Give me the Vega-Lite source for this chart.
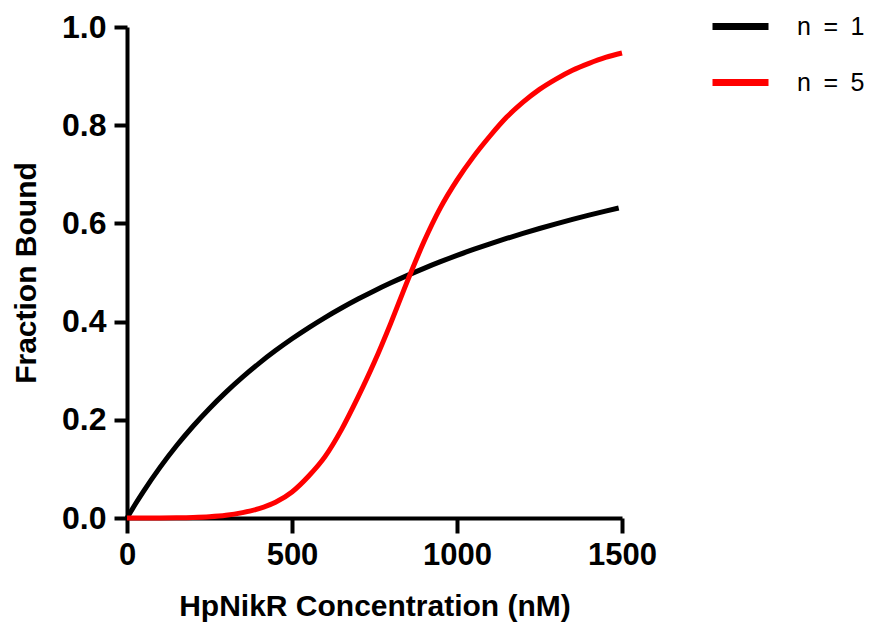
{
  "$schema": "https://vega.github.io/schema/vega-lite/v6.json",
  "autosize": "none",
  "width": 495,
  "height": 491,
  "padding": {"left": 127, "top": 27, "right": 250, "bottom": 109},
  "background": "white",
  "config": {"view": {"stroke": null}},
  "datasets": {
    "curves": [
      {"conc": 0, "bound": 0, "series": "n = 1"},
      {"conc": 25, "bound": 0.0279, "series": "n = 1"},
      {"conc": 50, "bound": 0.0543, "series": "n = 1"},
      {"conc": 100, "bound": 0.1031, "series": "n = 1"},
      {"conc": 150, "bound": 0.1471, "series": "n = 1"},
      {"conc": 200, "bound": 0.1869, "series": "n = 1"},
      {"conc": 250, "bound": 0.2232, "series": "n = 1"},
      {"conc": 300, "bound": 0.2564, "series": "n = 1"},
      {"conc": 350, "bound": 0.2869, "series": "n = 1"},
      {"conc": 400, "bound": 0.3150, "series": "n = 1"},
      {"conc": 450, "bound": 0.3409, "series": "n = 1"},
      {"conc": 500, "bound": 0.3650, "series": "n = 1"},
      {"conc": 550, "bound": 0.3873, "series": "n = 1"},
      {"conc": 600, "bound": 0.4082, "series": "n = 1"},
      {"conc": 650, "bound": 0.4276, "series": "n = 1"},
      {"conc": 700, "bound": 0.4459, "series": "n = 1"},
      {"conc": 750, "bound": 0.4630, "series": "n = 1"},
      {"conc": 800, "bound": 0.4790, "series": "n = 1"},
      {"conc": 850, "bound": 0.4942, "series": "n = 1"},
      {"conc": 900, "bound": 0.5085, "series": "n = 1"},
      {"conc": 950, "bound": 0.5220, "series": "n = 1"},
      {"conc": 1000, "bound": 0.5348, "series": "n = 1"},
      {"conc": 1050, "bound": 0.5469, "series": "n = 1"},
      {"conc": 1100, "bound": 0.5584, "series": "n = 1"},
      {"conc": 1150, "bound": 0.5693, "series": "n = 1"},
      {"conc": 1200, "bound": 0.5797, "series": "n = 1"},
      {"conc": 1250, "bound": 0.5896, "series": "n = 1"},
      {"conc": 1300, "bound": 0.5991, "series": "n = 1"},
      {"conc": 1350, "bound": 0.6081, "series": "n = 1"},
      {"conc": 1400, "bound": 0.6167, "series": "n = 1"},
      {"conc": 1450, "bound": 0.6250, "series": "n = 1"},
      {"conc": 1490, "bound": 0.6314, "series": "n = 1"},
      {"conc": 0, "bound": 0, "series": "n = 5"},
      {"conc": 100, "bound": 0.0, "series": "n = 5"},
      {"conc": 150, "bound": 0.0003, "series": "n = 5"},
      {"conc": 200, "bound": 0.001, "series": "n = 5"},
      {"conc": 250, "bound": 0.0025, "series": "n = 5"},
      {"conc": 300, "bound": 0.0055, "series": "n = 5"},
      {"conc": 350, "bound": 0.011, "series": "n = 5"},
      {"conc": 400, "bound": 0.019, "series": "n = 5"},
      {"conc": 450, "bound": 0.032, "series": "n = 5"},
      {"conc": 500, "bound": 0.053, "series": "n = 5"},
      {"conc": 550, "bound": 0.085, "series": "n = 5"},
      {"conc": 600, "bound": 0.125, "series": "n = 5"},
      {"conc": 650, "bound": 0.180, "series": "n = 5"},
      {"conc": 700, "bound": 0.246, "series": "n = 5"},
      {"conc": 750, "bound": 0.318, "series": "n = 5"},
      {"conc": 800, "bound": 0.398, "series": "n = 5"},
      {"conc": 850, "bound": 0.483, "series": "n = 5"},
      {"conc": 900, "bound": 0.563, "series": "n = 5"},
      {"conc": 950, "bound": 0.632, "series": "n = 5"},
      {"conc": 1000, "bound": 0.688, "series": "n = 5"},
      {"conc": 1050, "bound": 0.736, "series": "n = 5"},
      {"conc": 1100, "bound": 0.778, "series": "n = 5"},
      {"conc": 1150, "bound": 0.816, "series": "n = 5"},
      {"conc": 1200, "bound": 0.847, "series": "n = 5"},
      {"conc": 1250, "bound": 0.873, "series": "n = 5"},
      {"conc": 1300, "bound": 0.894, "series": "n = 5"},
      {"conc": 1350, "bound": 0.912, "series": "n = 5"},
      {"conc": 1400, "bound": 0.926, "series": "n = 5"},
      {"conc": 1450, "bound": 0.938, "series": "n = 5"},
      {"conc": 1500, "bound": 0.947, "series": "n = 5"}
    ]
  },
  "data": {"name": "curves"},
  "mark": {"type": "line", "strokeWidth": 5, "interpolate": "monotone"},
  "encoding": {
    "x": {
      "field": "conc",
      "type": "quantitative",
      "scale": {"domain": [0, 1500], "nice": false},
      "axis": {
        "title": "HpNikR Concentration (nM)",
        "values": [0, 500, 1000, 1500],
        "format": "d",
        "grid": false,
        "domainColor": "black",
        "domainWidth": 4,
        "tickColor": "black",
        "tickWidth": 4,
        "tickSize": 15,
        "labelFont": "Liberation Sans",
        "labelFontSize": 31,
        "labelFontWeight": "bold",
        "labelColor": "black",
        "labelPadding": 7,
        "labelFlush": false,
        "titleFont": "Liberation Sans",
        "titleFontSize": 30,
        "titleFontWeight": "bold",
        "titleColor": "black",
        "titlePadding": 21
      }
    },
    "y": {
      "field": "bound",
      "type": "quantitative",
      "scale": {"domain": [0, 1], "nice": false},
      "axis": {
        "title": "Fraction Bound",
        "values": [0, 0.2, 0.4, 0.6, 0.8, 1.0],
        "format": ".1f",
        "grid": false,
        "domainColor": "black",
        "domainWidth": 4,
        "tickColor": "black",
        "tickWidth": 4,
        "tickSize": 13,
        "labelFont": "Liberation Sans",
        "labelFontSize": 32,
        "labelFontWeight": "bold",
        "labelColor": "black",
        "labelPadding": 8,
        "labelFlush": false,
        "titleFont": "Liberation Sans",
        "titleFontSize": 30,
        "titleFontWeight": "bold",
        "titleColor": "black",
        "titlePadding": 20
      }
    },
    "color": {
      "field": "series",
      "type": "nominal",
      "scale": {"domain": ["n = 1", "n = 5"], "range": ["#000000", "#ff0000"]},
      "legend": {
        "title": null,
        "orient": "none",
        "legendX": 582,
        "legendY": -32,
        "padding": 0,
        "rowPadding": 10,
        "symbolType": "stroke",
        "symbolSize": 3136,
        "symbolStrokeWidth": 7,
        "labelOffset": 25,
        "labelFont": "Liberation Sans",
        "labelFontSize": 25,
        "labelColor": "black",
        "labelExpr": "replace(datum.label, / /g, '\u2002')"
      }
    }
  }
}
